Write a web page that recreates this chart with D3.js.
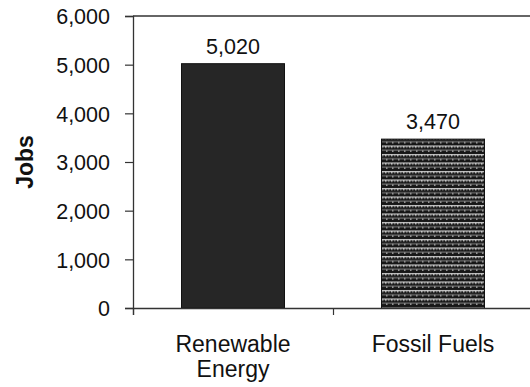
<!DOCTYPE html>
<html><head><meta charset="utf-8">
<script src="https://cdn.jsdelivr.net/npm/d3@7"></script>
<style>
html,body{margin:0;padding:0;background:#fff;}
svg{display:block;font-family:Arial,"Liberation Sans",sans-serif;}
</style></head>
<body>
<svg id="chart" width="530" height="387"></svg>
<script>
const categories = [["Renewable","Energy"],["Fossil Fuels"]];
const categoryKeys = ["Renewable Energy","Fossil Fuels"];
const jobs = [5020, 3470];
const yTicks = [0,1000,2000,3000,4000,5000,6000];
const yTitle = "Jobs";

const svg = d3.select("#chart");
const L = 133, R = 533, T = 16, B = 308;

const defs = svg.append("defs");
const pat = defs.append("pattern").attr("id","fossil").attr("patternUnits","userSpaceOnUse")
  .attr("width",6).attr("height",8.5);
pat.append("rect").attr("width",6).attr("height",8.5).attr("fill","#161616");
pat.append("rect").attr("x",0).attr("y",1).attr("width",6).attr("height",1.2).attr("fill","#cfcfcf");
pat.append("rect").attr("x",1).attr("y",2.2).attr("width",1.5).attr("height",1).attr("fill","#ffffff");
pat.append("rect").attr("x",4).attr("y",2.2).attr("width",1.5).attr("height",1).attr("fill","#b0b0b0");
pat.append("rect").attr("x",0).attr("y",5.2).attr("width",6).attr("height",1).attr("fill","#8a8a8a");
pat.append("rect").attr("x",2).attr("y",6.2).attr("width",1.5).attr("height",1).attr("fill","#e0e0e0");

const y = d3.scaleLinear().domain([0,6000]).range([B,T]);
const x = d3.scaleBand().domain(categoryKeys).range([L,R]).paddingInner(0.485).paddingOuter(0.2425);
const xEdges = d3.scaleLinear().domain([0,categoryKeys.length]).range([L,R]);

// top border
svg.append("line").attr("x1",L).attr("x2",530).attr("y1",T).attr("y2",T)
  .attr("stroke","#333").attr("stroke-width",1.3);

// bars
const fills = ["#262626","url(#fossil)"];
svg.selectAll("rect.bar").data(jobs).enter().append("rect").attr("class","bar")
  .attr("x",(d,i)=>x(categoryKeys[i]))
  .attr("y",d=>y(d))
  .attr("width",x.bandwidth())
  .attr("height",d=>B-y(d))
  .attr("fill",(d,i)=>fills[i])
  .attr("stroke","#111").attr("stroke-width",1);

// y axis
const yAxis = svg.append("g").attr("transform",`translate(${L},0)`)
  .call(d3.axisLeft(y).tickValues(yTicks).tickSize(8).tickPadding(15).tickFormat(d3.format(",")));
yAxis.select(".domain").attr("stroke","#333").attr("stroke-width",1.3);
yAxis.selectAll(".tick line").attr("stroke","#333").attr("stroke-width",1.2);
yAxis.selectAll("text").attr("font-size",21.5).attr("fill","#111")
  .attr("font-family","Arial, 'Liberation Sans', sans-serif").attr("dy","0.36em");

// x axis
const xAxis = svg.append("g").attr("transform",`translate(0,${B})`)
  .call(d3.axisBottom(xEdges).ticks(categoryKeys.length).tickSize(7).tickFormat(""));
xAxis.select(".domain").attr("stroke","#333").attr("stroke-width",1.3);
xAxis.selectAll(".tick line").attr("stroke","#333").attr("stroke-width",1.2);

// category labels
categories.forEach((lines,i)=>{
  const cx = x(categoryKeys[i]) + x.bandwidth()/2;
  const t = svg.append("text").attr("x",cx).attr("y",352).attr("text-anchor","middle")
    .attr("font-size",23).attr("fill","#111");
  lines.forEach((ln,j)=>{
    t.append("tspan").attr("x",cx).attr("dy",j===0?0:25).text(ln);
  });
});

// value labels
svg.selectAll("text.val").data(jobs).enter().append("text").attr("class","val")
  .attr("x",(d,i)=>x(categoryKeys[i])+x.bandwidth()/2)
  .attr("y",d=>y(d)-10)
  .attr("text-anchor","middle").attr("font-size",21.5).attr("fill","#111")
  .text(d=>d3.format(",")(d));

// y title
svg.append("text").attr("transform",`translate(33,${(T+B)/2}) rotate(-90)`)
  .attr("text-anchor","middle").attr("font-size",23).attr("font-weight","bold").attr("fill","#111")
  .text(yTitle);
</script>
</body></html>
